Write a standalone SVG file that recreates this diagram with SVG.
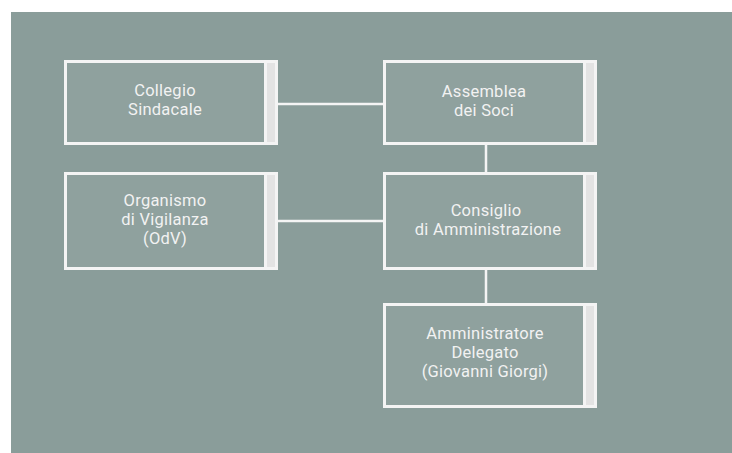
<svg xmlns="http://www.w3.org/2000/svg" width="732" height="453" viewBox="0 0 732 453">
<style>
.box{fill:#8fa19e;stroke:#f4f4f4;stroke-width:3}
.strip{fill:#e3e3e3}
.div{stroke:#f4f4f4;stroke-width:3}
.conn{stroke:#f4f4f4;stroke-width:2.5;fill:none}
text{font-family:Roboto,"Liberation Sans",Arial,sans-serif;font-weight:400;font-size:16.5px;fill:#f2f2f2;text-anchor:middle;letter-spacing:0.25px}
</style>
<rect x="0" y="0" width="732" height="453" fill="#ffffff"/>
<rect x="11" y="12" width="721" height="441" fill="#8a9d9a"/>
<g id="connectors">
<line class="conn" x1="278" y1="104" x2="383" y2="104"/>
<line class="conn" x1="278" y1="221" x2="383" y2="221"/>
<line class="conn" x1="486" y1="145" x2="486" y2="172"/>
<line class="conn" x1="486" y1="270" x2="486" y2="303"/>
</g>
<g id="collegio">
<rect class="box" x="65.5" y="61.5" width="211" height="82"/>
<rect class="strip" x="267" y="63" width="8" height="79"/>
<line class="div" x1="265.5" y1="61.5" x2="265.5" y2="143.5"/>
<text x="165" y="96">Collegio</text>
<text x="165" y="115">Sindacale</text>
</g>
<g id="assemblea">
<rect class="box" x="384.5" y="61.5" width="211" height="82"/>
<rect class="strip" x="586" y="63" width="8" height="79"/>
<line class="div" x1="584.5" y1="61.5" x2="584.5" y2="143.5"/>
<text x="484" y="97">Assemblea</text>
<text x="484" y="116">dei Soci</text>
</g>
<g id="organismo">
<rect class="box" x="65.5" y="173.5" width="211" height="95"/>
<rect class="strip" x="267" y="175" width="8" height="92"/>
<line class="div" x1="265.5" y1="173.5" x2="265.5" y2="268.5"/>
<text x="165" y="206">Organismo</text>
<text x="165" y="225">di Vigilanza</text>
<text x="165" y="244">(OdV)</text>
</g>
<g id="consiglio">
<rect class="box" x="384.5" y="173.5" width="211" height="95"/>
<rect class="strip" x="586" y="175" width="8" height="92"/>
<line class="div" x1="584.5" y1="173.5" x2="584.5" y2="268.5"/>
<text x="486" y="216">Consiglio</text>
<text x="488" y="235">di Amministrazione</text>
</g>
<g id="amministratore">
<rect class="box" x="384.5" y="304.5" width="211" height="102"/>
<rect class="strip" x="586" y="306" width="8" height="99"/>
<line class="div" x1="584.5" y1="304.5" x2="584.5" y2="406.5"/>
<text x="485" y="339">Amministratore</text>
<text x="485" y="358">Delegato</text>
<text x="485" y="377">(Giovanni Giorgi)</text>
</g>
</svg>
